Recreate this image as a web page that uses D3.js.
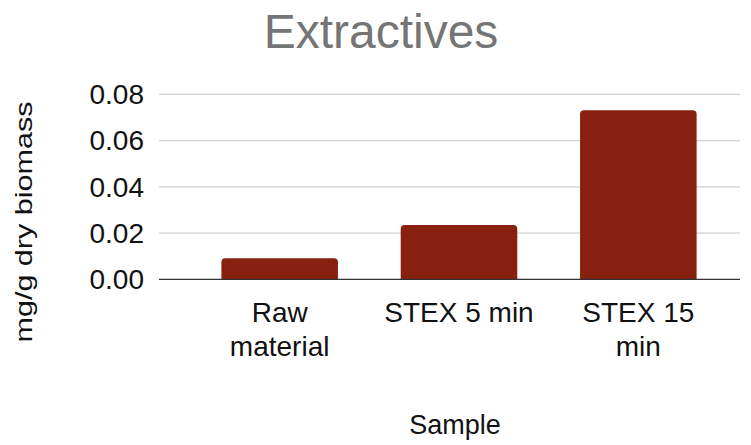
<!DOCTYPE html>
<html>
<head>
<meta charset="utf-8">
<script src="https://cdn.jsdelivr.net/npm/d3@7"></script>
<style>
  body { margin: 0; background: #fff; }
  text { font-family: "Liberation Sans", Arial, sans-serif; }
</style>
</head>
<body>
<div id="chart"></div>
<script>
const categories = [["Raw", "material"], ["STEX 5 min"], ["STEX 15", "min"]];
const values = [0.0091, 0.0235, 0.0731];
const yTicks = [0, 0.02, 0.04, 0.06, 0.08];

let width = 751, height = 445;
let svg = d3.select('#chart').append('svg')
    .attr('width', width)
    .attr('height', height);

let plotLeft = 159, plotRight = 740, plotTop = 94.3, plotBottom = 279.3;

let yScale = d3.scaleLinear()
    .domain([0, 0.08])
    .range([plotBottom, plotTop]);

let xScale = d3.scaleBand()
    .domain(d3.range(categories.length))
    .range([190, 728])
    .paddingInner(0.35)
    .paddingOuter(0.175);

// gridlines
svg.append('g')
    .selectAll('line')
    .data(yTicks.slice(1))
    .join('line')
    .attr('x1', plotLeft)
    .attr('x2', plotRight)
    .attr('y1', d => yScale(d))
    .attr('y2', d => yScale(d))
    .attr('stroke', '#d0d0d0')
    .attr('stroke-width', 1.3);

// y tick labels
svg.append('g')
    .selectAll('text')
    .data(yTicks)
    .join('text')
    .attr('x', 144)
    .attr('y', d => yScale(d))
    .attr('dy', '0.35em')
    .attr('text-anchor', 'end')
    .attr('font-size', '28px')
    .attr('fill', '#111')
    .text(d => d3.format('.2f')(d));

// bars with rounded top corners
function barPath(x, y, w, h, r) {
    r = Math.min(r, h);
    return `M${x},${y + h} V${y + r} Q${x},${y} ${x + r},${y} H${x + w - r} Q${x + w},${y} ${x + w},${y + r} V${y + h} Z`;
}

svg.append('g')
    .selectAll('path')
    .data(values)
    .join('path')
    .attr('d', (d, i) => barPath(xScale(i), yScale(d), xScale.bandwidth(), yScale(0) - yScale(d), 4))
    .attr('fill', '#88200f');

// baseline
svg.append('line')
    .attr('x1', plotLeft)
    .attr('x2', plotRight)
    .attr('y1', plotBottom)
    .attr('y2', plotBottom)
    .attr('stroke', '#333')
    .attr('stroke-width', 1.3);

// category labels
let catText = svg.append('g')
    .selectAll('text')
    .data(categories)
    .join('text')
    .attr('x', (d, i) => xScale(i) + xScale.bandwidth() / 2)
    .attr('y', 322)
    .attr('text-anchor', 'middle')
    .attr('font-size', '28px')
    .attr('fill', '#111');

catText.selectAll('tspan')
    .data(d => d)
    .join('tspan')
    .attr('x', function () { return d3.select(this.parentNode).attr('x'); })
    .attr('dy', (d, i) => i === 0 ? 0 : 34)
    .text(d => d);

// title
svg.append('text')
    .attr('x', 381)
    .attr('y', 48)
    .attr('text-anchor', 'middle')
    .attr('font-size', '48px')
    .attr('fill', '#757575')
    .text('Extractives');

// axis titles
svg.append('text')
    .attr('x', 455)
    .attr('y', 434)
    .attr('text-anchor', 'middle')
    .attr('font-size', '27px')
    .attr('fill', '#111')
    .text('Sample');

svg.append('text')
    .attr('transform', 'translate(32, 222) rotate(-90)')
    .attr('text-anchor', 'middle')
    .attr('font-size', '24px')
    .attr('textLength', 241)
    .attr('lengthAdjust', 'spacingAndGlyphs')
    .attr('fill', '#111')
    .text('mg/g dry biomass');
</script>
</body>
</html>
